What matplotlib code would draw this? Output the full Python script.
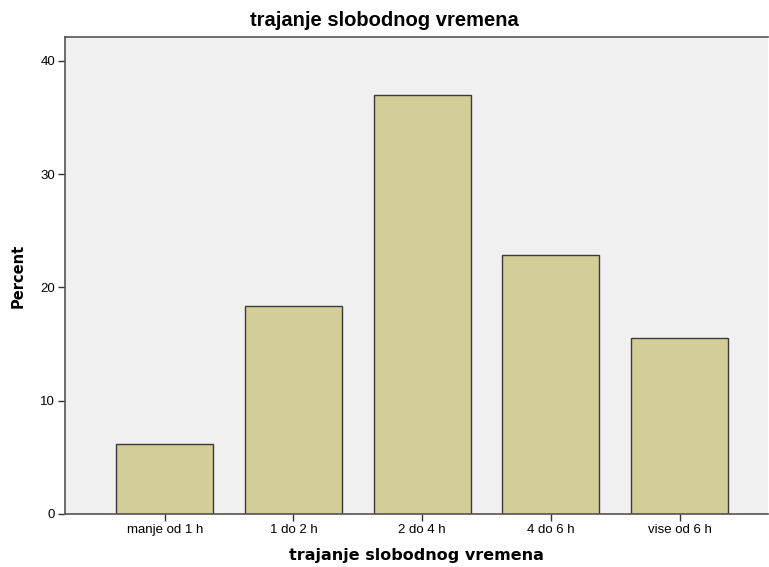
import matplotlib
matplotlib.use("Agg")
import matplotlib.pyplot as plt

categories = ["manje od 1 h", "1 do 2 h", "2 do 4 h", "4 do 6 h", "vise od 6 h"]
percent = [6.2, 18.4, 37.0, 22.9, 15.5]
yticks = [0, 10, 20, 30, 40]

plt.rcParams['font.family'] = ['Liberation Sans', 'DejaVu Sans']

fig = plt.figure(figsize=(7.69, 5.67), dpi=100)
ax = fig.add_axes([65/769, 53/567, 703/769, 477/567])
ax.set_facecolor('#F0F0F0')
x = list(range(len(categories)))
ax.bar(x, percent, width=0.754, color='#D3CE98', edgecolor='#3a3a3a', linewidth=1.0, zorder=2)
ax.set_xlim(-0.775, 4.686)
ax.set_ylim(0, 42.1)
ax.set_xticks(x)
ax.set_xticklabels(categories, fontsize=9.5)
ax.set_yticks(yticks)
ax.set_yticklabels([str(t) for t in yticks], fontsize=9.5)
ax.tick_params(axis='both', direction='out', length=5, width=1, color='#333333', pad=2)
for side in ['left', 'bottom', 'top']:
    ax.spines[side].set_color('#555555')
    ax.spines[side].set_linewidth(1.2)
ax.spines['right'].set_visible(False)
ax.set_title('trajanje slobodnog vremena', fontsize=14.5, fontweight='bold', pad=8,
             x=(384.5 - 65) / 703)
ax.set_xlabel('trajanje slobodnog vremena', fontsize=11.5, fontweight='bold',
              family=['DejaVu Sans'], labelpad=9)
ax.set_ylabel('Percent', fontsize=10.5, fontweight='bold', family=['DejaVu Sans'], labelpad=11)
fig.savefig('out.png', dpi=100)
